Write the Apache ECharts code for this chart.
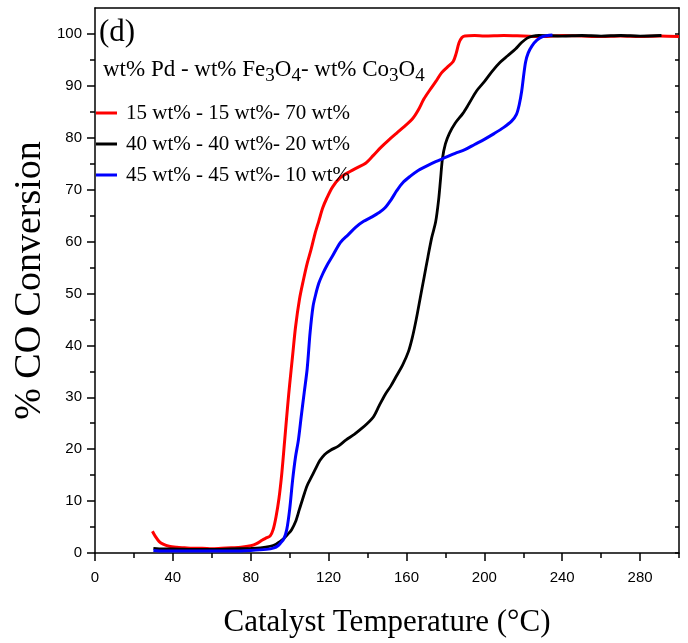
<!DOCTYPE html>
<html>
<head>
<meta charset="utf-8">
<script src="https://cdn.jsdelivr.net/npm/echarts@6/dist/echarts.min.js"></script>
<style>html,body{margin:0;padding:0;background:#fff}#c{width:688px;height:643px}</style>
</head>
<body>
<div id="c"></div>
<script>
// ---- data ----
const seriesNames = ['15 wt% - 15 wt%- 70 wt%', '40 wt% - 40 wt%- 20 wt%', '45 wt% - 45 wt%- 10 wt%'];
const xTicks = [0, 40, 80, 120, 160, 200, 240, 280];
const yTicks = [0, 10, 20, 30, 40, 50, 60, 70, 80, 90, 100];

const redT = [29.5, 31, 33, 35, 38, 42, 46, 50, 55, 60, 65, 70, 75, 80, 83, 86, 88, 90, 91.5, 93, 94.5, 96, 97.5, 99, 100, 101.5, 103, 105, 107, 109, 111, 113, 115, 117, 119, 122, 126, 131, 135, 139, 143, 147, 151, 155, 159, 163, 166, 169, 172, 175, 178, 181, 184, 185.5, 187, 188.5, 190, 195, 200, 210, 220, 230, 240, 250, 260, 270, 280, 290, 300];
const redC = [4.2, 3.2, 2.2, 1.7, 1.3, 1.1, 1.0, 0.9, 0.9, 0.8, 0.9, 1.0, 1.1, 1.4, 1.8, 2.5, 2.9, 3.3, 4.5, 7, 10.5, 15.5, 22, 28.5, 32.5, 38, 43.5, 48.8, 52.5, 55.8, 58.5, 61.5, 64, 66.5, 68.3, 70.5, 72.3, 73.5, 74.3, 75.1, 76.6, 78.2, 79.6, 80.9, 82.2, 83.6, 85.3, 87.5, 89.2, 90.8, 92.5, 93.6, 94.7, 96.2, 98.3, 99.3, 99.6, 99.7, 99.6, 99.7, 99.6, 99.5, 99.7, 99.6, 99.5, 99.6, 99.5, 99.6, 99.5];

const blackT = [30, 35, 40, 50, 60, 70, 80, 85, 90, 93, 95, 97, 99, 101, 103, 105, 107, 109, 111, 113, 115.5, 118, 121, 125, 129, 133, 137, 140, 143, 146, 149, 152, 155, 158, 161, 163, 165, 167, 169, 171, 173, 175, 176.5, 177.5, 178.5, 180, 182, 185, 189, 192, 196, 200, 204, 208, 212, 216, 219, 222, 225, 228, 240, 250, 260, 270, 280, 291];
const blackC = [0.9, 0.8, 0.8, 0.7, 0.7, 0.8, 0.9, 1.0, 1.3, 1.7, 2.2, 2.8, 3.6, 4.5, 6, 8.4, 10.8, 13, 14.5, 16, 17.8, 19, 19.8, 20.6, 21.8, 22.8, 24, 25, 26.2, 28.4, 30.5, 32.2, 34.2, 36.2, 38.8, 41.5, 45, 49, 53, 57, 60.8, 63.8, 68, 72, 76, 78.8, 80.8, 82.8, 84.7, 86.5, 89, 90.8, 92.8, 94.5, 95.8, 97.1, 98.3, 99.2, 99.6, 99.7, 99.6, 99.7, 99.6, 99.7, 99.6, 99.7];

const blueT = [30, 35, 40, 50, 60, 70, 80, 88, 92, 94, 95.5, 97, 98.5, 100, 101.5, 103, 104.5, 106, 107.5, 109, 110.5, 112, 113.5, 115, 117, 119, 122, 126, 130, 134, 138, 142, 146, 149, 152, 155, 158, 162, 166, 170, 175, 180, 185, 190, 195, 200, 205, 210, 214, 216.5, 218, 219.2, 220.2, 221.2, 222.5, 224.5, 227, 230, 235];
const blueC = [0.5, 0.4, 0.4, 0.4, 0.4, 0.4, 0.5, 0.7, 1.0, 1.4, 2, 2.7, 4.5, 8.4, 14, 18.5, 21.8, 26.5, 31, 35.5, 42.5, 47.5, 50, 52, 53.8, 55.3, 57.2, 59.8, 61.3, 62.8, 63.9, 64.7, 65.6, 66.5, 68, 69.8, 71.3, 72.6, 73.7, 74.5, 75.4, 76.2, 77, 77.7, 78.7, 79.7, 80.8, 82, 83.2, 84.5, 86.5, 89, 92, 94.6, 96.3, 97.7, 98.8, 99.5, 99.8];

const xMinor = [20, 60, 100, 140, 180, 220, 260, 300];
const yMinor = [5, 15, 25, 35, 45, 55, 65, 75, 85, 95];

const zip = (a, b) => a.map((v, i) => [v, b[i]]);

const serif = '"Liberation Serif","Times New Roman",serif';
const sans = '"Liberation Sans",Arial,sans-serif';

const chart = echarts.init(document.getElementById('c'), null, {renderer: 'canvas'});
const axisLine = {show: true, onZero: false, lineStyle: {color: '#000', width: 1.5}};

const option = {
  animation: false,
  backgroundColor: '#fff',
  grid: {left: 95, right: 9, top: 8, bottom: 89.5, containLabel: false},
  xAxis: [
    {type: 'value', min: 0, max: 300, position: 'bottom',
     axisLine: axisLine, splitLine: {show: false},
     axisTick: {show: true, inside: false, length: 8, lineStyle: {width: 1.5, color: '#000'}, customValues: xTicks},
     axisLabel: {customValues: xTicks, color: '#000', fontFamily: sans, fontSize: 15, margin: 17},
     name: 'Catalyst Temperature (°C)', nameLocation: 'middle', nameGap: 54,
     nameTextStyle: {fontFamily: serif, fontSize: 31, color: '#000'}},
    {type: 'value', min: 0, max: 300, position: 'bottom', offset: 0,
     axisLine: {show: false, onZero: false}, splitLine: {show: false},
     axisTick: {show: true, inside: false, length: 5, lineStyle: {width: 1.5, color: '#000'}, customValues: xMinor},
     axisLabel: {show: false}},
    {type: 'value', min: 0, max: 300, position: 'top',
     axisLine: axisLine, splitLine: {show: false},
     axisTick: {show: false}, axisLabel: {show: false}}
  ],
  yAxis: [
    {type: 'value', min: 0, max: 105, position: 'left',
     axisLine: axisLine, splitLine: {show: false},
     axisTick: {show: true, inside: false, length: 8, lineStyle: {width: 1.5, color: '#000'}, customValues: yTicks},
     axisLabel: {customValues: yTicks, color: '#000', fontFamily: sans, fontSize: 15, margin: 13},
     name: '% CO Conversion', nameLocation: 'middle', nameGap: 46, nameRotate: 90, nameMoveOverlap: false,
     nameTextStyle: {fontFamily: serif, fontSize: 38, color: '#000'}},
    {type: 'value', min: 0, max: 105, position: 'left', offset: 0,
     axisLine: {show: false, onZero: false}, splitLine: {show: false},
     axisTick: {show: true, inside: false, length: 5, lineStyle: {width: 1.5, color: '#000'}, customValues: yMinor},
     axisLabel: {show: false}},
    {type: 'value', min: 0, max: 105, position: 'right',
     axisLine: axisLine, splitLine: {show: false},
     axisTick: {show: true, inside: true, length: 4, lineStyle: {width: 1.5, color: '#000'}, customValues: yTicks.concat(yMinor)},
     axisLabel: {show: false}}
  ],
  legend: {
    left: 96, top: 102, orient: 'vertical', padding: 0,
    itemWidth: 21, itemHeight: 3, itemGap: 9,
    icon: 'rect',
    textStyle: {fontFamily: serif, fontSize: 21, color: '#000', lineHeight: 22, padding: [0, 0, 0, 4]},
    data: seriesNames
  },
  graphic: [
    {type: 'text', left: 99, top: 17, style: {text: '(d)', font: '31px ' + serif, fill: '#000'}},
    {type: 'text', left: 103, top: 58, style: {
      text: 'wt% Pd - wt% Fe{s|3}O{s|4}- wt% Co{s|3}O{s|4}',
      font: '23px ' + serif, fill: '#000',
      rich: {s: {fontSize: 19, fontFamily: serif, fill: '#000', padding: [14, 0, 0, 0]}}
    }}
  ],
  series: [
    {name: seriesNames[0], type: 'line', data: zip(redT, redC), xAxisIndex: 0, yAxisIndex: 0,
     showSymbol: false, smooth: 0.3, lineStyle: {color: '#ff0000', width: 3}, itemStyle: {color: '#ff0000'}},
    {name: seriesNames[1], type: 'line', data: zip(blackT, blackC), xAxisIndex: 0, yAxisIndex: 0,
     showSymbol: false, smooth: 0.3, lineStyle: {color: '#000000', width: 2.8}, itemStyle: {color: '#000000'}},
    {name: seriesNames[2], type: 'line', data: zip(blueT, blueC), xAxisIndex: 0, yAxisIndex: 0,
     showSymbol: false, smooth: 0.3, lineStyle: {color: '#0000ff', width: 3}, itemStyle: {color: '#0000ff'}}
  ]
};
chart.setOption(option);
</script>
</body>
</html>
